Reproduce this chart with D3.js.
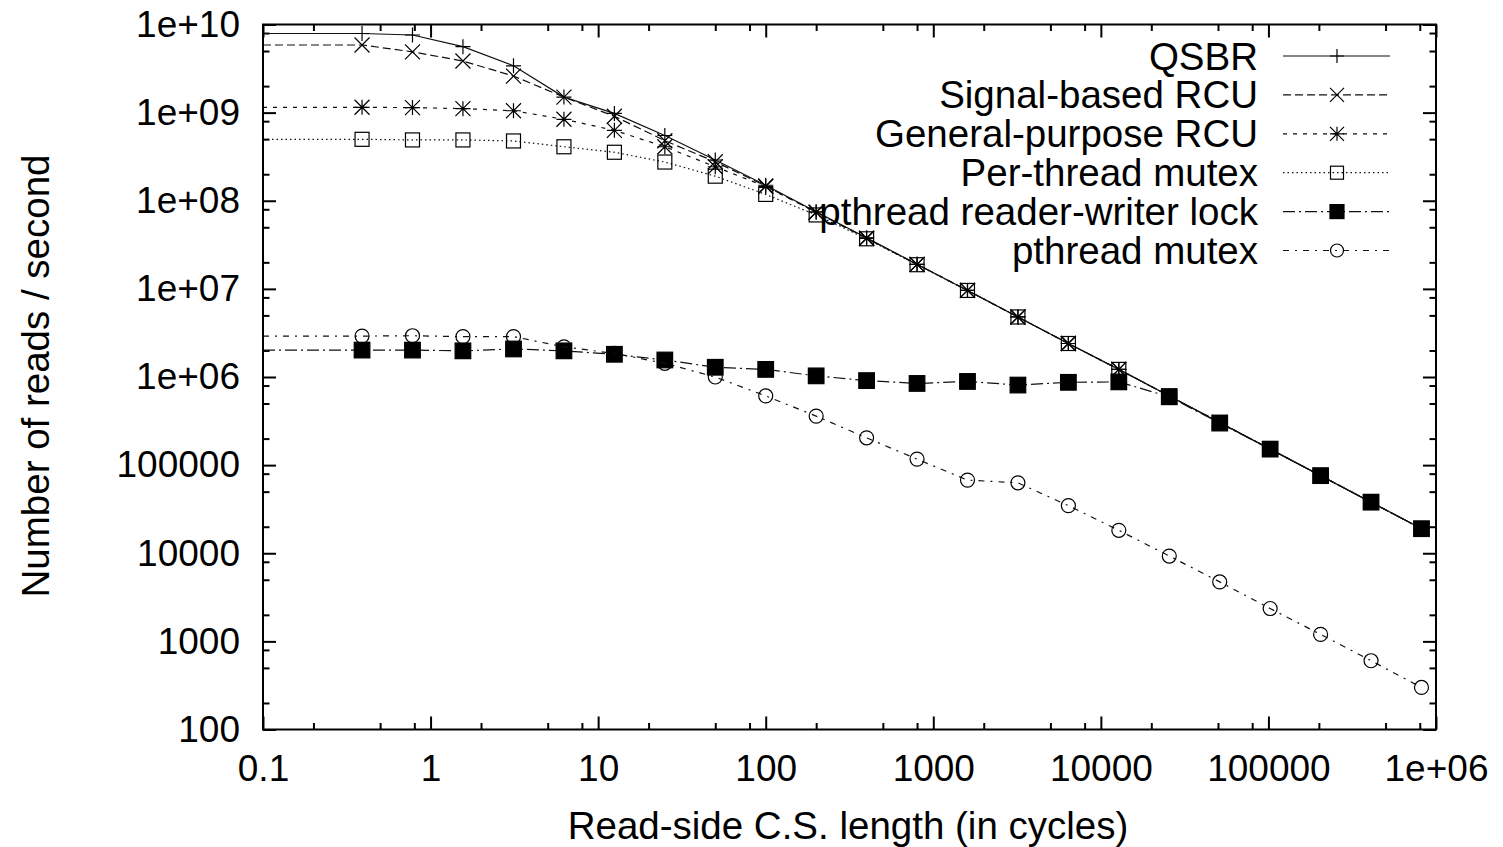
<!DOCTYPE html>
<html>
<head>
<meta charset="utf-8">
<script src="https://cdn.jsdelivr.net/npm/d3@7"></script>
<style>
  body { margin: 0; background: #fff; }
  text { font-family: "Liberation Sans", Arial, sans-serif; fill: #000; }
</style>
</head>
<body>
<div class="chart"></div>
<script>
// read-side critical section length (cycles)
const xValues = [0.39, 0.78, 1.56, 3.125, 6.25, 12.5, 25, 50, 100, 200, 400, 800,
                 1600, 3200, 6400, 12800, 25600, 51200, 102400, 204800, 409600, 819200]

// reads / second for each series
const qsbr = [7.9e9, 7.6e9, 5.6e9, 3.4e9, 1.5e9, 9.8e8, 5.5e8, 2.9e8, 1.5e8, 7.5e7, 3.8e7, 1.9e7,
              9.6e6, 4.8e6, 2.4e6, 1.22e6, 6.1e5, 3.05e5, 1.52e5, 7.6e4, 3.8e4, 1.9e4]
const signalRcu = [5.85e9, 4.9e9, 3.85e9, 2.6e9, 1.5e9, 9.1e8, 4.8e8, 2.77e8, 1.47e8, 7.4e7, 3.75e7, 1.9e7,
                   9.6e6, 4.8e6, 2.4e6, 1.22e6, 6.1e5, 3.05e5, 1.52e5, 7.6e4, 3.8e4, 1.9e4]
const gpRcu = [1.15e9, 1.14e9, 1.11e9, 1.05e9, 8.4e8, 6.3e8, 4.1e8, 2.43e8, 1.45e8, 7.4e7, 3.75e7, 1.9e7,
               9.6e6, 4.8e6, 2.4e6, 1.22e6, 6.1e5, 3.05e5, 1.52e5, 7.6e4, 3.8e4, 1.9e4]
const perThreadMutex = [4.98e8, 4.9e8, 4.9e8, 4.77e8, 4.1e8, 3.55e8, 2.75e8, 1.9e8, 1.18e8, 6.9e7, 3.7e7, 1.88e7,
                        9.6e6, 4.8e6, 2.4e6, 1.22e6, 6.1e5, 3.05e5, 1.52e5, 7.6e4, 3.8e4, 1.9e4]
const rwLock = [2.02e6, 2.02e6, 1.98e6, 2.08e6, 1.98e6, 1.81e6, 1.56e6, 1.29e6, 1.22e6, 1.03e6, 9.1e5, 8.45e5,
                8.9e5, 8.1e5, 8.7e5, 8.8e5, 5.96e5, 3.0e5, 1.52e5, 7.6e4, 3.8e4, 1.9e4]
const pthreadMutex = [2.91e6, 2.94e6, 2.87e6, 2.87e6, 2.2e6, 1.85e6, 1.43e6, 1.0e6, 6.1e5, 3.6e5, 2.04e5, 1.17e5,
                      6.76e4, 6.3e4, 3.47e4, 1.82e4, 9.3e3, 4.73e3, 2.36e3, 1.2e3, 603, 300]

const seriesNames = ["QSBR", "Signal-based RCU", "General-purpose RCU", "Per-thread mutex",
                     "pthread reader-writer lock", "pthread mutex"]
const seriesValues = [qsbr, signalRcu, gpRcu, perThreadMutex, rwLock, pthreadMutex]

// tick labels
const xTicks = [0.1, 1, 10, 100, 1000, 10000, 100000, 1e6]
const xTickLabels = ["0.1", "1", "10", "100", "1000", "10000", "100000", "1e+06"]
const yTicks = [100, 1000, 10000, 100000, 1e6, 1e7, 1e8, 1e9, 1e10]
const yTickLabels = ["100", "1000", "10000", "100000", "1e+06", "1e+07", "1e+08", "1e+09", "1e+10"]
const minorSteps = [2, 5, 8]

const chart = {
    width: 1503,
    height: 847,
    margin: { top: 24.5, right: 67, bottom: 117.5, left: 263 },
    tickFont: 37,
    font: 38.5
}

// gnuplot-ish line styles and point types
const styles = [
    { dash: null,         point: "plus" },
    { dash: "8,4",        point: "cross" },
    { dash: "4,6",        point: "star" },
    { dash: "1.5,3",      point: "box" },
    { dash: "12,4,2,4",   point: "boxfill" },
    { dash: "6,6,2,6",    point: "circle" }
]

const x = d3.scaleLog()
            .domain([0.1, 1e6])
            .range([chart.margin.left, chart.width - chart.margin.right])
const y = d3.scaleLog()
            .domain([100, 1e10])
            .range([chart.height - chart.margin.bottom, chart.margin.top])

const svg = d3.select(".chart").append("svg")
    .attr("width", chart.width)
    .attr("height", chart.height)

const plotBottom = y.range()[0], plotTop = y.range()[1]
const plotLeft = x.range()[0], plotRight = x.range()[1]

svg.append("clipPath").attr("id", "plot-clip")
  .append("rect")
    .attr("x", plotLeft).attr("y", plotTop)
    .attr("width", plotRight - plotLeft)
    .attr("height", plotBottom - plotTop)

// minor tick positions (2, 5, 8 of each decade)
const minorOf = ticks => ticks.slice(0, -1).flatMap(d => minorSteps.map(m => d * m))

const styleAxis = g => {
    g.select(".domain").remove()
    g.selectAll("line").attr("stroke", "#000").attr("stroke-width", 2)
    g.selectAll("text").attr("font-size", chart.tickFont).attr("font-family", null)
}

// labelled axes with inward ticks
svg.append("g").attr("transform", `translate(0,${plotBottom})`)
    .call(d3.axisBottom(x).tickValues(xTicks).tickSize(-13).tickPadding(25)
            .tickFormat((d, i) => xTickLabels[i]))
    .call(styleAxis)
svg.append("g").attr("transform", `translate(${plotLeft},0)`)
    .call(d3.axisLeft(y).tickValues(yTicks).tickSize(-13).tickPadding(23)
            .tickFormat((d, i) => yTickLabels[i]))
    .call(styleAxis)

// mirrored major ticks + all minor ticks
svg.append("g").attr("transform", `translate(0,${plotTop})`)
    .call(d3.axisTop(x).tickValues(xTicks).tickSize(-13).tickFormat(""))
    .call(styleAxis)
svg.append("g").attr("transform", `translate(${plotRight},0)`)
    .call(d3.axisRight(y).tickValues(yTicks).tickSize(-13).tickFormat(""))
    .call(styleAxis)
svg.append("g").attr("transform", `translate(0,${plotBottom})`)
    .call(d3.axisBottom(x).tickValues(minorOf(xTicks)).tickSize(-6.5).tickFormat(""))
    .call(styleAxis)
svg.append("g").attr("transform", `translate(0,${plotTop})`)
    .call(d3.axisTop(x).tickValues(minorOf(xTicks)).tickSize(-6.5).tickFormat(""))
    .call(styleAxis)
svg.append("g").attr("transform", `translate(${plotLeft},0)`)
    .call(d3.axisLeft(y).tickValues(minorOf(yTicks)).tickSize(-6.5).tickFormat(""))
    .call(styleAxis)
svg.append("g").attr("transform", `translate(${plotRight},0)`)
    .call(d3.axisRight(y).tickValues(minorOf(yTicks)).tickSize(-6.5).tickFormat(""))
    .call(styleAxis)

// frame
svg.append("rect")
    .attr("x", plotLeft).attr("y", plotTop)
    .attr("width", plotRight - plotLeft).attr("height", plotBottom - plotTop)
    .attr("fill", "none").attr("stroke", "#000").attr("stroke-width", 2)

// axis titles
svg.append("text")
    .attr("x", 848).attr("y", 825)
    .attr("text-anchor", "middle").attr("dominant-baseline", "central")
    .attr("font-size", chart.font)
    .text("Read-side C.S. length (in cycles)")
svg.append("text")
    .attr("transform", `translate(35,376) rotate(-90)`)
    .attr("text-anchor", "middle").attr("dominant-baseline", "central")
    .attr("font-size", chart.font)
    .text("Number of reads / second")

// point symbols
const drawPoint = (g, type, s) => {
    if (type === "plus") {
        g.append("path").attr("d", `M${-s},0H${s}M0,${-s}V${s}`)
    } else if (type === "cross") {
        g.append("path").attr("d", `M${-s},${-s}L${s},${s}M${-s},${s}L${s},${-s}`)
    } else if (type === "star") {
        g.append("path").attr("d", `M${-s},0H${s}M0,${-s}V${s}M${-s},${-s}L${s},${s}M${-s},${s}L${s},${-s}`)
    } else if (type === "box") {
        g.append("rect").attr("x", -s + 0.5).attr("y", -s + 0.5)
         .attr("width", 2 * s - 1).attr("height", 2 * s - 1).attr("fill", "none")
    } else if (type === "boxfill") {
        g.append("rect").attr("x", -s).attr("y", -s)
         .attr("width", 2 * s).attr("height", 2 * s).attr("fill", "#000")
    } else if (type === "circle") {
        g.append("circle").attr("r", s - 0.5).attr("fill", "none")
    }
}

const line = d3.line().x(d => x(d[0])).y(d => y(d[1]))
const plot = svg.append("g").attr("clip-path", "url(#plot-clip)")

seriesValues.forEach((vals, i) => {
    const pts = xValues.map((xv, j) => [xv, vals[j]])
    // the curves run flat from the left edge to the first sample
    const linePts = [[x.domain()[0], vals[0]], ...pts]
    plot.append("path")
        .attr("d", line(linePts))
        .attr("fill", "none")
        .attr("stroke", "#111")
        .attr("stroke-width", 1.2)
        .attr("stroke-dasharray", styles[i].dash)

    const size = styles[i].point === "boxfill" ? 7.8 : 7.5
    plot.selectAll(null).data(pts).enter()
      .append("g")
        .attr("transform", d => `translate(${x(d[0])},${y(d[1])})`)
        .attr("stroke", "#000").attr("stroke-width", 1.2).attr("fill", "none")
        .each(function() { drawPoint(d3.select(this), styles[i].point, size) })
})

// legend
const legendRow = i => 56 + i * 38.9
const legend = svg.append("g")
seriesNames.forEach((name, i) => {
    const ly = legendRow(i)
    legend.append("text")
        .attr("x", 1258).attr("y", ly)
        .attr("text-anchor", "end").attr("dominant-baseline", "central")
        .attr("font-size", chart.font)
        .text(name)
    legend.append("line")
        .attr("x1", 1283).attr("x2", 1390).attr("y1", ly).attr("y2", ly)
        .attr("stroke", "#111").attr("stroke-width", 1.2)
        .attr("stroke-dasharray", styles[i].dash)
    const pg = legend.append("g")
        .attr("transform", `translate(1337,${ly})`)
        .attr("stroke", "#000").attr("stroke-width", 1.2).attr("fill", "none")
    drawPoint(pg, styles[i].point, 7)
})
</script>
</body>
</html>
